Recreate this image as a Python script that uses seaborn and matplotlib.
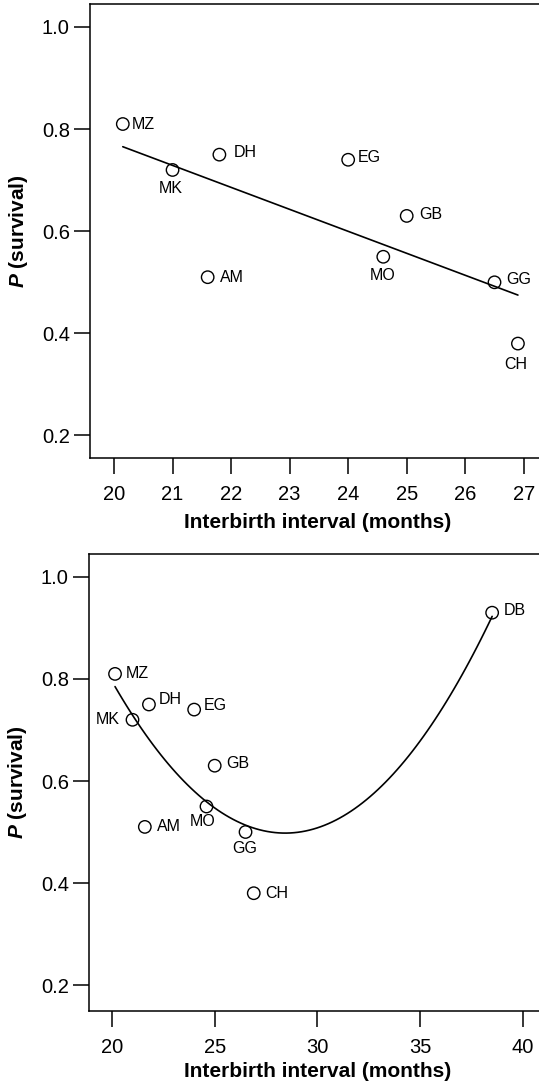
import numpy as np
import pandas as pd
import matplotlib
matplotlib.use("Agg")
import matplotlib.pyplot as plt
import seaborn as sns

# Data
ids = ["MZ", "MK", "DH", "AM", "EG", "MO", "GB", "GG", "CH", "DB"]
interval = [20.15, 21.0, 21.8, 21.6, 24.0, 24.6, 25.0, 26.5, 26.9, 38.5]
survival = [0.81, 0.72, 0.75, 0.51, 0.74, 0.55, 0.63, 0.50, 0.38, 0.93]

# label offsets in pixels (dx, dy, ha) for each panel
lab_top = {"MZ": (9, 0, "left"), "MK": (-2, -19, "center"), "DH": (14, 2, "left"),
           "AM": (12, 0, "left"), "EG": (10, 2, "left"), "MO": (-1, -19, "center"),
           "GB": (13, 1, "left"), "GG": (12, 3, "left"), "CH": (-2, -21, "center")}
lab_bot = {"MZ": (11, 0, "left"), "MK": (-13, 0, "right"), "DH": (10, 5, "left"),
           "AM": (12, 0, "left"), "EG": (10, 4, "left"), "MO": (-4, -15, "center"),
           "GB": (12, 2, "left"), "GG": (-1, -16, "center"), "CH": (11, 0, "left"),
           "DB": (12, 2, "left")}

df = pd.DataFrame({"id": ids, "interval": interval, "survival": survival})
df_top = df[df["id"] != "DB"]

sns.set_style("ticks")
plt.rcParams["font.family"] = ["Liberation Sans", "DejaVu Sans"]
plt.rcParams["mathtext.fontset"] = "custom"
plt.rcParams["mathtext.it"] = "Liberation Sans:italic:bold"
plt.rcParams["axes.linewidth"] = 1.1
for k in ["text.color", "axes.labelcolor", "xtick.color", "ytick.color", "axes.edgecolor"]:
    plt.rcParams[k] = "black"

fig = plt.figure(figsize=(5.39, 10.87), dpi=100)
ax1 = fig.add_axes([0.167, 0.5787, 0.833, 0.4176])
ax2 = fig.add_axes([0.165, 0.0699, 0.835, 0.4204])


def panel(ax, data, order, labels, xlim, ylim, xticks, lab_y):
    sns.regplot(data=data, x="interval", y="survival", order=order, ci=None,
                scatter=False, ax=ax, color="black", line_kws={"linewidth": 1.2})
    sns.scatterplot(data=data, x="interval", y="survival", ax=ax, marker="o",
                    s=80, facecolor="none", edgecolor="black", linewidth=1.0,
                    zorder=3)
    for _, r in data.iterrows():
        dx, dy, ha = labels[r["id"]]
        ax.annotate(r["id"], (r["interval"], r["survival"]), xytext=(dx, dy),
                    textcoords="offset pixels", ha=ha, va="center", fontsize=11.5)
    ax.set_xlim(*xlim)
    ax.set_ylim(*ylim)
    ax.set_xticks(xticks)
    ax.set_yticks([0.2, 0.4, 0.6, 0.8, 1.0])
    ax.set_yticklabels(["0.2", "0.4", "0.6", "0.8", "1.0"])
    ax.spines["right"].set_visible(False)
    ax.tick_params(axis="both", direction="out", length=11.5, width=1.1,
                   labelsize=14.5, color="black", labelcolor="black")
    ax.tick_params(axis="x", pad=8)
    ax.tick_params(axis="y", pad=3)
    ax.set_xlabel("Interbirth interval (months)", fontsize=15, fontweight="bold")
    ax.set_ylabel("$P$ (survival)", fontsize=15, fontweight="bold")
    ax.xaxis.set_label_coords(0.508, lab_y)
    ax.yaxis.set_label_coords(-0.134, 0.5)


panel(ax1, df_top, 1, lab_top, (19.59, 27.26), (0.156, 1.045),
      [20, 21, 22, 23, 24, 25, 26, 27], -0.121)
panel(ax2, df, 2, lab_bot, (18.88, 40.78), (0.149, 1.045),
      [20, 25, 30, 35, 40], -0.112)

fig.savefig("out.png", dpi=100)
